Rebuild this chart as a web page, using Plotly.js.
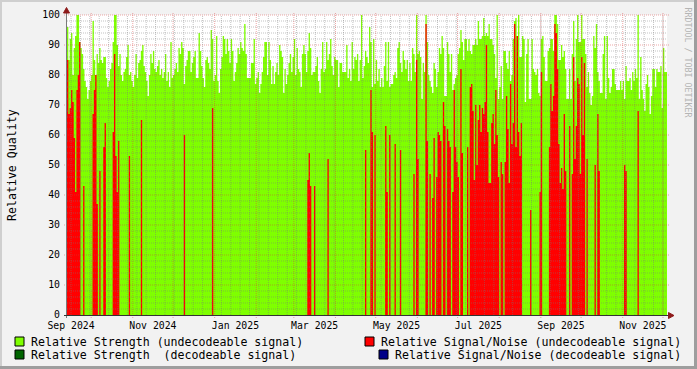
<!DOCTYPE html>
<html><head><meta charset="utf-8">
<script src="https://cdn.plot.ly/plotly-3.0.1.min.js"></script>
<style>html,body{margin:0;padding:0;background:#f2f2f2;}#chart{width:697px;height:369px;}</style>
</head><body><div id="chart"></div>
<script>
// ---------------- data (one value per day) ----------------
const startDate = '2024-09-13';
const endDate = '2025-12-04';

// Relative Strength (undecodeable signal), daily
const strengthUndecodeable = [
96,85,92,94,80,89,93,100,100,91,
89,87,82,78,76,72,75,78,80,98,
85,80,87,84,89,85,84,86,86,79,
76,78,82,84,91,100,100,90,83,87,
80,78,81,82,86,90,80,81,78,76,
80,87,79,84,85,88,90,83,81,78,
73,80,87,84,88,82,81,83,85,80,
82,79,81,87,
78,81,76,91,79,80,82,84,81,89,
87,91,89,77,83,85,88,88,81,84,
86,88,79,79,94,88,83,79,76,85,
86,84,82,95,92,78,80,93,78,74,
82,86,93,92,87,92,88,84,92,88,
78,81,84,89,87,91,89,88,97,87,
79,79,79,84,84,92,77,79,81,74,
77,81,86,91,
91,80,91,85,77,83,77,81,84,
80,90,88,86,74,82,77,80,84,87,
81,86,92,80,89,82,81,76,87,90,
87,81,88,94,89,80,81,81,83,86,
78,74,82,91,81,82,91,85,87,92,
83,80,86,85,85,76,84,84,81,81,
81,90,79,82,78,91,82,86,85,87,
78,85,100,79,83,88,
86,84,96,91,76,92,77,85,78,82,
76,79,76,83,91,78,91,76,77,77,
80,81,79,89,91,84,81,88,85,82,
85,78,84,78,89,87,81,100,87,88,
86,72,84,81,100,91,80,78,76,74,
84,82,76,81,89,87,93,89,73,73,
91,87,81,87,75,77,79,80,87,89,
95,91,85,92,
92,88,92,88,87,90,90,92,90,98,
92,92,93,99,93,94,93,97,92,92,
90,87,79,100,72,76,83,72,88,88,
84,82,88,78,80,92,98,99,93,100,
86,86,93,92,71,87,92,72,72,92,
82,81,80,82,74,73,92,93,86,78,
78,88,89,92,92,88,100,100,97,85,
85,90,86,88,82,
72,72,82,72,87,98,78,92,100,91,
91,100,92,92,87,76,81,74,70,73,
93,89,97,81,78,74,74,87,93,72,
93,79,74,76,82,82,77,75,75,75,
78,75,78,72,83,78,78,79,75,81,
78,82,79,100,72,86,75,72,68,77,
80,76,67,73,82,82,76,82,81,81,
83,69,89,81,81
];

// Relative Signal/Noise (undecodeable signal): day index -> value
const snrDays = [0,1,2,3,4,5,6,7,8,9,12,19,20,21,22,24,27,28,34,35,36,37,38,46,55,87,108,
179,180,181,184,194,222,226,227,229,237,238,240,244,248,258,260,261,
267,268,270,272,273,275,276,277,278,280,281,283,284,285,287,288,289,290,291,293,294,
298,300,301,302,303,304,305,306,307,308,309,310,311,312,313,314,315,316,317,318,319,320,321,
323,324,326,327,328,329,330,331,332,333,334,335,336,337,338,345,352,353,
359,360,361,362,363,364,365,366,367,368,369,370,371,374,376,377,378,379,380,381,382,383,384,385,387,
393,395,396,415,416,425];
const snrValues = [85,67,69,75,71,59,41,75,80,91,43,67,75,80,37,48,56,64,61,87,53,41,58,53,65,60,69,
45,54,43,43,52,55,75,61,60,63,41,60,57,55,47,85,52,
97,58,47,39,59,46,61,60,58,71,63,62,58,56,41,75,56,51,46,82,54,
56,76,77,68,45,70,50,65,70,61,69,67,71,90,61,44,44,64,67,57,75,60,46,
51,47,51,73,62,44,77,57,64,97,56,93,61,53,64,35,41,81,
56,77,68,73,97,94,82,57,44,49,42,67,48,63,47,86,52,63,79,77,47,86,60,84,52,
50,67,48,50,48,68];

const labelMonths = ['2024-09','2024-11','2025-01','2025-03','2025-05','2025-07','2025-09','2025-11'];
const tickLabels = ['Sep 2024','Nov 2024','Jan 2025','Mar 2025','May 2025','Jul 2025','Sep 2025','Nov 2025'];
const yTickValues = [0,10,20,30,40,50,60,70,80,90,100];
const legendLabels = ['Relative Strength (undecodeable signal)',
  'Relative Strength\u00a0 (decodeable signal)',
  'Relative Signal/Noise (undecodeable signal)',
  'Relative Signal/Noise (decodeable signal)'];
const seriesColors = ['#7fff00','#006400','#ff0000','#000088'];

// ---------------- build ----------------
const DAY = 86400000;
const t0 = Date.parse(startDate + 'T00:00:00Z');
const tEnd = Date.parse(endDate + 'T00:00:00Z');
const n = strengthUndecodeable.length;
const iso = ms => new Date(ms).toISOString().slice(0,19).replace('T',' ');
const dates = [];
for (let i = 0; i <= n; i++) dates.push(iso(t0 + i*DAY));

const snrDaily = new Array(n).fill(0);
snrDays.forEach((d,k) => { snrDaily[d] = snrValues[k]; });

function stepTrace(vals, color){
  return {x: dates, y: vals.concat([vals[vals.length-1]]), type:'scatter', mode:'lines',
    line:{shape:'hv', width:0, color:color}, fill:'tozeroy', fillcolor:color,
    hoverinfo:'skip', showlegend:false};
}
const traces = [stepTrace(strengthUndecodeable, seriesColors[0]), stepTrace(snrDaily, seriesColors[2])];

// tick label positions: middle of the labelled month
const tickVals = labelMonths.map(m => {
  const [y,mo] = m.split('-').map(Number);
  const a = Date.UTC(y, mo-1, 1), b = Date.UTC(y, mo, 1);
  return iso((a+b)/2);
});

// pixel helpers (plot area 67..667 x 15..315)
const L=67, T=15, W=600, H=300;
const PX = x => (x-L)/W, PY = y => (T+H-y)/H;
const tx = ms => (ms - t0)/(tEnd - t0);

const shapes = [];
const minorCol = 'rgba(120,120,120,0.45)', majorCol = 'rgba(215,60,60,0.45)';
// horizontal grid
for (let v = 2; v <= 100; v += 2) {
  const major = v % 10 === 0;
  shapes.push({type:'line', xref:'paper', yref:'paper', x0: major ? PX(64) : 0, x1: major ? PX(670) : 1,
    y0: v/100, y1: v/100, layer:'above', line:{color: major?majorCol:minorCol, width:1, dash:'1px,1px'}});
}
// weekly grid (Mondays)
let w = t0; while (new Date(w).getUTCDay() !== 1) w += DAY;
for (; w < tEnd; w += 7*DAY) {
  shapes.push({type:'line', xref:'paper', yref:'paper', x0: tx(w), x1: tx(w), y0:0, y1:1, layer:'above',
    line:{color:minorCol, width:1, dash:'1px,1px'}});
}
// monthly grid
for (let y = 2024, m = 9; ; m++) {
  if (m > 11) { m = 0; y++; }
  const ms = Date.UTC(y, m, 1);
  if (ms > tEnd) break;
  if (ms <= t0) continue;
  shapes.push({type:'line', xref:'paper', yref:'paper', x0: tx(ms), x1: tx(ms), y0: PY(318), y1: PY(12), layer:'above',
    line:{color:majorCol, width:1, dash:'1px,1px'}});
}
// axes
shapes.push({type:'line', xref:'paper', yref:'paper', x0:PX(66.5), x1:PX(66.5), y0:PY(318), y1:PY(12), layer:'above', line:{color:'#7a7a7a', width:1}});
shapes.push({type:'line', xref:'paper', yref:'paper', x0:PX(64), x1:PX(669), y0:PY(315.5), y1:PY(315.5), layer:'above', line:{color:'#333', width:1}});
// arrows
const arrowCol = '#8e1b1b';
shapes.push({type:'path', xref:'paper', yref:'paper', layer:'above', fillcolor:arrowCol, line:{color:arrowCol, width:1},
  path:`M ${PX(66.5)} ${PY(7.5)} L ${PX(63.5)} ${PY(13)} L ${PX(69.5)} ${PY(13)} Z`});
shapes.push({type:'path', xref:'paper', yref:'paper', layer:'above', fillcolor:arrowCol, line:{color:arrowCol, width:1},
  path:`M ${PX(674)} ${PY(315.5)} L ${PX(668.5)} ${PY(312.5)} L ${PX(668.5)} ${PY(318.5)} Z`});
// frame
shapes.push({type:'line', xref:'paper', yref:'paper', x0:PX(0), x1:PX(697), y0:PY(1), y1:PY(1), line:{color:'#cfcfcf', width:2}});
shapes.push({type:'line', xref:'paper', yref:'paper', x0:PX(1), x1:PX(1), y0:PY(0), y1:PY(369), line:{color:'#cfcfcf', width:2}});
shapes.push({type:'line', xref:'paper', yref:'paper', x0:PX(0), x1:PX(697), y0:PY(367.5), y1:PY(367.5), line:{color:'#9e9e9e', width:3}});
shapes.push({type:'line', xref:'paper', yref:'paper', x0:PX(695.5), x1:PX(695.5), y0:PY(0), y1:PY(369), line:{color:'#9e9e9e', width:3}});

// legend
const font = 'DejaVu Sans Mono';
const annotations = [];
const legendItems = [
  {sx:15, sy:337, tx:30, ty:341.5, anchor:'left', color:seriesColors[0], label:legendLabels[0]},
  {sx:15, sy:350, tx:30, ty:354.5, anchor:'left', color:seriesColors[1], label:legendLabels[1]},
  {sx:365, sy:337, tx:682, ty:341.5, anchor:'right', color:seriesColors[2], label:legendLabels[2]},
  {sx:379, sy:350, tx:682, ty:354.5, anchor:'right', color:seriesColors[3], label:legendLabels[3]}
];
legendItems.forEach(it => {
  shapes.push({type:'rect', xref:'paper', yref:'paper', x0:PX(it.sx), x1:PX(it.sx+9), y0:PY(it.sy), y1:PY(it.sy+9),
    fillcolor:it.color, line:{color:'#000', width:1}});
  annotations.push({xref:'paper', yref:'paper', x:PX(it.tx), y:PY(it.ty), xanchor:it.anchor, yanchor:'middle',
    showarrow:false, text:it.label, font:{family:font, size:11.6, color:'#000'}, borderpad:0});
});
annotations.push({xref:'paper', yref:'paper', x:PX(12), y:0.5, textangle:-90, showarrow:false,
  text:'Relative Quality', font:{family:font, size:11.6, color:'#000'}, xanchor:'center', yanchor:'middle'});
annotations.push({xref:'paper', yref:'paper', x:PX(687.5), y:PY(62), textangle:90, showarrow:false,
  text:'RRDTOOL / TOBI OETIKER', font:{family:font, size:8.3, color:'#b4b4b4'}, xanchor:'center', yanchor:'middle'});

const layout = {
  width:697, height:369, margin:{l:L, r:697-L-W, t:T, b:369-T-H, pad:0},
  paper_bgcolor:'#f2f2f2', plot_bgcolor:'#ffffff', showlegend:false,
  xaxis:{type:'date', range:[iso(t0), iso(tEnd)], tickmode:'array', tickvals:tickVals, ticktext:tickLabels,
    showgrid:false, zeroline:false, showline:false, ticks:'', ticklabelstandoff:3,
    tickfont:{family:font, size:9.8, color:'#000'}, fixedrange:true},
  yaxis:{range:[0,100], tickmode:'array', tickvals:yTickValues, showgrid:false, zeroline:false, showline:false,
    ticks:'', ticklabelstandoff:6, tickfont:{family:font, size:9.8, color:'#000'}, fixedrange:true},
  shapes: shapes, annotations: annotations
};
Plotly.newPlot('chart', traces, layout, {displayModeBar:false, staticPlot:true});
</script></body></html>
